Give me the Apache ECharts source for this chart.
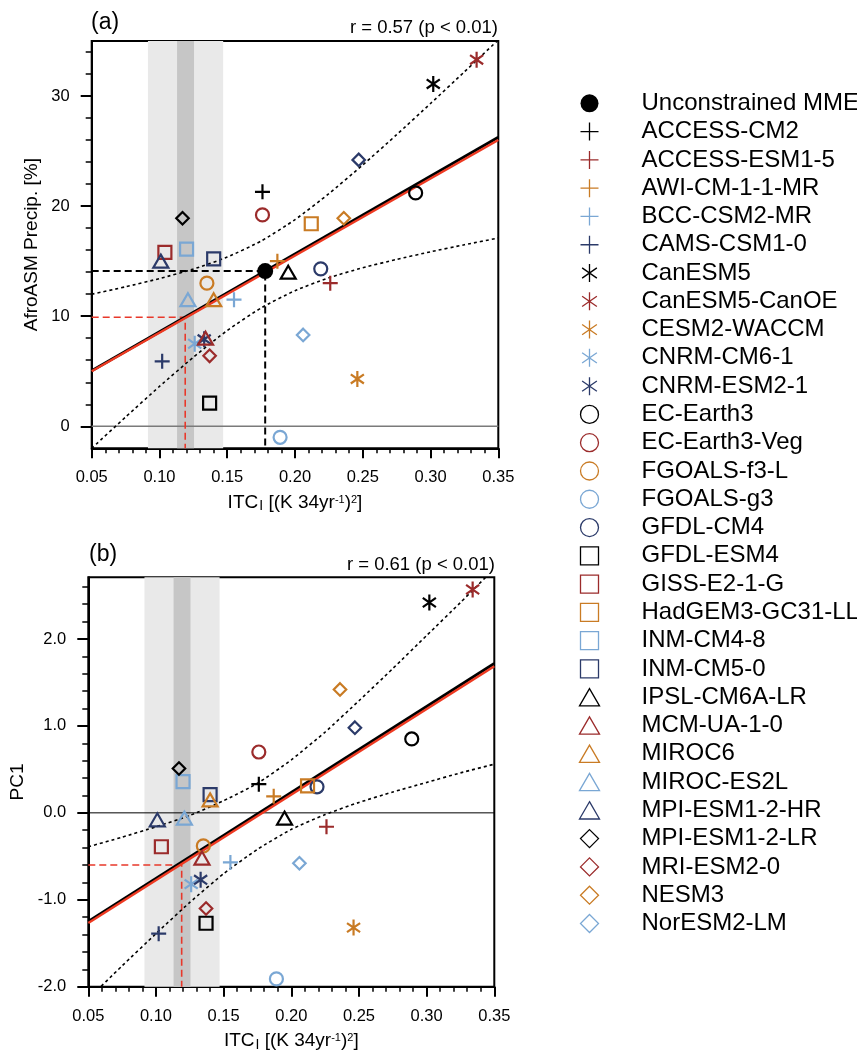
<!DOCTYPE html>
<html>
<head>
<meta charset="utf-8">
<script src="https://cdn.jsdelivr.net/npm/echarts@6/dist/echarts.min.js"></script>
<style>html,body{margin:0;padding:0;background:#fff}#chart{width:857px;height:1054px}</style>
</head>
<body>
<div id="chart"></div>
<script>
// ---------------- data ----------------
const models = ['ACCESS-CM2','ACCESS-ESM1-5','AWI-CM-1-1-MR','BCC-CSM2-MR','CAMS-CSM1-0',
  'CanESM5','CanESM5-CanOE','CESM2-WACCM','CNRM-CM6-1','CNRM-ESM2-1',
  'EC-Earth3','EC-Earth3-Veg','FGOALS-f3-L','FGOALS-g3','GFDL-CM4',
  'GFDL-ESM4','GISS-E2-1-G','HadGEM3-GC31-LL','INM-CM4-8','INM-CM5-0',
  'IPSL-CM6A-LR','MCM-UA-1-0','MIROC6','MIROC-ES2L','MPI-ESM1-2-HR',
  'MPI-ESM1-2-LR','MRI-ESM2-0','NESM3','NorESM2-LM','(unlabelled)'];
const itc = [0.176,0.226,0.187,0.155,0.102,
  0.302,0.334,0.246,0.126,0.133,
  0.289,0.176,0.135,0.189,0.219,
  0.137,0.104,0.212,0.120,0.140,
  0.195,0.134,0.140,0.121,0.101,
  0.117,0.137,0.236,0.206,0.247];
const precipA = [21.3,13.0,15.0,11.5,5.9,
  31.1,33.3,4.3,7.5,7.9,
  21.2,19.2,13.0,-1.0,14.3,
  2.1,15.8,18.4,16.1,15.2,
  14.0,8.0,11.5,11.5,15.0,
  18.9,6.4,18.9,8.3,24.2];
const pc1B = [0.33,-0.16,0.19,-0.57,-1.39,
  2.42,2.57,-1.32,-0.82,-0.77,
  0.85,0.70,-0.38,-1.91,0.30,
  -1.27,-0.39,0.31,0.36,0.21,
  -0.06,-0.52,0.15,-0.06,-0.08,
  0.51,-1.10,1.42,-0.58,0.98];
const mmeA = [0.178, 14.1];
const constrainedITC = 0.119;
const constrainedA = 9.9;
const constrainedB = -0.6;
const obsOuter = [0.0915, 0.147];
const obsInner = [0.113, 0.1255];
const regX = [0.05, 0.35];
const regABlack = [5.05, 26.25];
const regARed = [5.0, 26.0];
const regBBlack = [-1.25, 1.718];
const regBRed = [-1.266, 1.687];
const ciX = [0.05,0.075,0.1,0.125,0.15,0.175,0.2,0.225,0.25,0.275,0.3,0.325,0.35];
const ciAUpper = [12.0,12.67,13.42,14.28,15.37,16.83,18.77,21.13,23.74,26.49,29.32,32.20,35.1];
const ciALower = [-2.0,0.84,3.62,6.27,8.70,10.75,12.32,13.49,14.40,15.16,15.85,16.49,17.10];
const ciBUpper = [-0.39,-0.28,-0.16,-0.03,0.14,0.34,0.61,0.93,1.29,1.66,2.04,2.42,2.81];
const ciBLower = [-2.14,-1.76,-1.39,-1.03,-0.70,-0.42,-0.19,-0.02,0.12,0.24,0.35,0.46,0.56];
const xTicks = [0.05,0.10,0.15,0.20,0.25,0.30,0.35];
const yTicksA = [0,10,20,30];
const yMinorA = [2,4,6,8,12,14,16,18,22,24,26,28,32,34];
const yTicksB = [-2,-1,0,1,2];
const yMinorB = [-1.8,-1.6,-1.4,-1.2,-0.8,-0.6,-0.4,-0.2,0.2,0.4,0.6,0.8,1.2,1.4,1.6,1.8,2.2,2.4,2.6];
const rTextA = 'r = 0.57 (p < 0.01)';
const rTextB = 'r = 0.61 (p < 0.01)';

// ---------------- styles ----------------
const FONT = '"Liberation Sans", Arial, Helvetica, sans-serif';
const palette = ['#000000', '#9b2b2b', '#c97b24', '#7aa7d4', '#2b3a69'];
const shapes = [
  {symbol: 'path://M10,0V20M0,10H20', size: 15},
  {symbol: 'path://M10,0V20M1.8,4.3L18.2,15.7M1.8,15.7L18.2,4.3', size: 16},
  {symbol: 'circle', size: 13},
  {symbol: 'path://M0,0H20V20H0Z', size: 13},
  {symbol: 'path://M10,0L20,17.3L0,17.3Z', size: 15},
  {symbol: 'path://M10,0L20,10L10,20L0,10Z', size: 12.5}
];

const chart = echarts.init(document.getElementById('chart'), null, {renderer: 'canvas'});

const xName = '{m|ITC}{sub|I}{m| [(K 34yr}{sup|-1}{m|)}{sup|2}{m|]}';
const xNameStyle = {
  color: '#000', fontSize: 19, fontFamily: FONT,
  rich: {
    m: {fontSize: 19, color: '#000', fontFamily: FONT},
    sub: {fontSize: 14, color: '#000', fontFamily: FONT, padding: [7, 0, 0, 1]},
    sup: {fontSize: 11, color: '#000', fontFamily: FONT, padding: [0, 0, 6, 0]}
  }
};

function xAxisCfg(g) {
  return {
    type: 'value', gridIndex: g, min: 0.05, max: 0.35, interval: 0.05,
    axisLine: {show: true, onZero: false, lineStyle: {color: '#000', width: 2}},
    axisTick: {show: true, length: 10, lineStyle: {color: '#000', width: 2}},
    minorTick: {show: true, splitNumber: 5, length: 5, lineStyle: {color: '#000', width: 1.5}},
    axisLabel: {margin: 21, fontSize: 16.5, color: '#000', fontFamily: FONT,
      customValues: xTicks, formatter: v => v.toFixed(2)},
    splitLine: {show: false}, minorSplitLine: {show: false},
    name: xName, nameLocation: 'middle', nameGap: 44, nameTextStyle: xNameStyle
  };
}
function yMain(g, min, max, ticks, fmt, name, gap) {
  return {
    type: 'value', gridIndex: g, min: min, max: max, position: 'left',
    axisLine: {show: true, onZero: false, lineStyle: {color: '#000', width: 2}},
    axisTick: {show: true, length: 11, customValues: ticks, lineStyle: {color: '#000', width: 2}},
    axisLabel: {customValues: ticks, margin: 22, fontSize: 16.5, color: '#000', fontFamily: FONT, formatter: fmt},
    splitLine: {show: false},
    name: name, nameLocation: 'middle', nameGap: gap,
    nameTextStyle: {fontSize: 19, color: '#000', fontFamily: FONT}
  };
}
function yMinor(g, min, max, ticks) {
  return {
    type: 'value', gridIndex: g, min: min, max: max, position: 'left',
    axisLine: {show: false, onZero: false},
    axisTick: {show: true, length: 6, customValues: ticks, lineStyle: {color: '#000', width: 1.5}},
    axisLabel: {show: false}, splitLine: {show: false}
  };
}

const series = [];
function lineSeries(g, data, style, z, extra) {
  return Object.assign({
    type: 'line', xAxisIndex: g, yAxisIndex: g * 2, data: data, symbol: 'none',
    silent: true, z: z, lineStyle: Object.assign({opacity: 1}, style), clip: true
  }, extra || {});
}
function bands() {
  return {silent: true, z: 1, data: [
    [{xAxis: obsOuter[0], itemStyle: {color: '#e9e9e9', opacity: 1}}, {xAxis: obsOuter[1]}],
    [{xAxis: obsInner[0], itemStyle: {color: '#c6c6c6', opacity: 1}}, {xAxis: obsInner[1]}]
  ]};
}
// zero lines hosting the bands
series.push(lineSeries(0, [[regX[0], 0], [regX[1], 0]], {color: '#7a7a7a', width: 1.5}, 2, {markArea: bands()}));
series.push(lineSeries(1, [[regX[0], 0], [regX[1], 0]], {color: '#000', width: 1}, 2, {markArea: bands()}));
// constraint dashed lines
series.push(lineSeries(0, [[regX[0], mmeA[1]], [mmeA[0], mmeA[1]], [mmeA[0], -2]], {color: '#000', width: 2, type: [7, 4]}, 3));
series.push(lineSeries(0, [[regX[0], constrainedA], [constrainedITC, constrainedA], [constrainedITC, -2]], {color: '#e8382a', width: 1.6, type: [7, 4]}, 3));
series.push(lineSeries(1, [[regX[0], constrainedB], [constrainedITC, constrainedB], [constrainedITC, -2]], {color: '#e8382a', width: 1.6, type: [7, 4]}, 3));
// confidence curves
const dotted = {color: '#000', width: 1.6, type: [3, 3]};
series.push(lineSeries(0, ciX.map((x, i) => [x, ciAUpper[i]]), dotted, 4, {smooth: 0.2}));
series.push(lineSeries(0, ciX.map((x, i) => [x, ciALower[i]]), dotted, 4, {smooth: 0.2}));
series.push(lineSeries(1, ciX.map((x, i) => [x, ciBUpper[i]]), dotted, 4, {smooth: 0.2}));
series.push(lineSeries(1, ciX.map((x, i) => [x, ciBLower[i]]), dotted, 4, {smooth: 0.2}));
// regression lines
series.push(lineSeries(0, regX.map((x, i) => [x, regABlack[i]]), {color: '#000', width: 3}, 5));
series.push(lineSeries(0, regX.map((x, i) => [x, regARed[i]]), {color: '#ee3a22', width: 2.4}, 6));
series.push(lineSeries(1, regX.map((x, i) => [x, regBBlack[i]]), {color: '#000', width: 3}, 5));
series.push(lineSeries(1, regX.map((x, i) => [x, regBRed[i]]), {color: '#ee3a22', width: 2.4}, 6));

// MME
series.push({type: 'scatter', name: 'Unconstrained MME', xAxisIndex: 0, yAxisIndex: 0,
  data: [mmeA], symbol: 'circle', symbolSize: 16, itemStyle: {color: '#000', opacity: 1}, z: 12, silent: true});
// models
models.forEach((name, i) => {
  const sh = shapes[Math.floor(i / 5)];
  const col = palette[i % 5];
  [[0, precipA], [1, pc1B]].forEach(([g, vals]) => {
    series.push({
      type: 'scatter', name: name, xAxisIndex: g, yAxisIndex: g * 2,
      data: [[itc[i], vals[i]]], symbol: sh.symbol, symbolSize: sh.size, symbolKeepAspect: true,
      itemStyle: {color: 'none', borderColor: col, borderWidth: 2.2, opacity: 1}, z: 10, silent: true
    });
  });
});

const option = {
  animation: false,
  backgroundColor: '#fff',
  textStyle: {fontFamily: FONT},
  grid: [
    {left: 91.7, top: 41, width: 406.6, height: 407.3, show: true, borderColor: '#000', borderWidth: 2,
      backgroundColor: 'transparent', containLabel: false, outerBoundsMode: 'none'},
    {left: 88.3, top: 577.3, width: 406, height: 409.4, show: true, borderColor: '#000', borderWidth: 2,
      backgroundColor: 'transparent', containLabel: false, outerBoundsMode: 'none'}
  ],
  xAxis: [xAxisCfg(0), xAxisCfg(1)],
  yAxis: [
    yMain(0, -2, 35, yTicksA, v => String(v), 'AfroASM Precip. [%]', 50),
    yMinor(0, -2, 35, yMinorA),
    yMain(1, -2, 2.71, yTicksB, v => v.toFixed(1), 'PC1', 61),
    yMinor(1, -2, 2.71, yMinorB)
  ],
  legend: {
    orient: 'vertical', left: 577, top: 89.2, padding: 0,
    itemWidth: 20, itemHeight: 18, itemGap: 0, symbolKeepAspect: true,
    selectedMode: false,
    itemStyle: {borderWidth: 1.3, opacity: 1},
    textStyle: {fontSize: 24, color: '#000', fontFamily: FONT, lineHeight: 28.28, padding: [0, 0, 0, 37]},
    data: ['Unconstrained MME'].concat(models.slice(0, 29))
  },
  graphic: [
    {type: 'text', x: 91, y: 23, style: {text: '(a)', fill: '#000', font: '23px ' + FONT, verticalAlign: 'middle'}},
    {type: 'text', x: 498, y: 28, style: {text: rTextA, fill: '#000', font: '18.5px ' + FONT, align: 'right', verticalAlign: 'middle'}},
    {type: 'text', x: 89, y: 554.6, style: {text: '(b)', fill: '#000', font: '23px ' + FONT, verticalAlign: 'middle'}},
    {type: 'text', x: 495, y: 565, style: {text: rTextB, fill: '#000', font: '18.5px ' + FONT, align: 'right', verticalAlign: 'middle'}}
  ],
  series: series
};
chart.setOption(option);
</script>
</body>
</html>
